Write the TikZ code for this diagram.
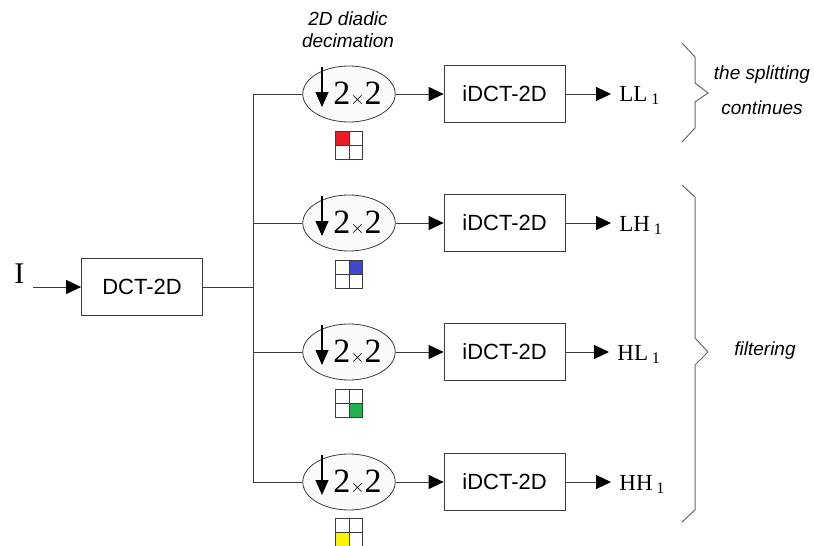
\documentclass[tikz,border=0pt]{standalone}
\usepackage{fontspec}
\setmainfont{Liberation Serif}
\setsansfont{Liberation Sans}
\usetikzlibrary{
  arrows.meta,
  positioning,
  shapes.geometric
}
\definecolor{LineGray}{RGB}{60,60,60}
\definecolor{BraceGray}{RGB}{105,105,105}
\definecolor{EllFill}{RGB}{248,250,252}
\definecolor{BandRed}{RGB}{237,28,36}
\definecolor{BandBlue}{RGB}{63,72,204}
\definecolor{BandGreen}{RGB}{34,177,76}
\definecolor{BandYellow}{RGB}{255,242,0}
\tikzset{
  blockbox/.style={draw=LineGray,fill=white,minimum width=60.5pt,minimum height=28.5pt,inner sep=0pt,font=\sffamily\fontsize{11}{13}\selectfont},
  decim/.style={ellipse,draw=LineGray,fill=EllFill,minimum width=44.5pt,minimum height=28pt,inner sep=0pt,font=\fontsize{17}{19}\selectfont},
  bandgrid/.style={minimum size=13.5pt,inner sep=0pt},
  outlabel/.style={inner xsep=4pt,inner ysep=0pt,anchor=base west,font=\fontsize{11.5}{14}\selectfont},
  inlabel/.style={inner sep=0pt,anchor=base west,font=\fontsize{15}{17}\selectfont},
  note/.style={align=center,font=\sffamily\itshape\fontsize{9.5}{11}\selectfont},
  wire/.style={draw=LineGray,line width=0.5pt},
  sigarrow/.style={wire,-{Triangle[length=7.5pt,width=7pt,color=black]}},
  downarrow/.style={draw=black,line width=0.6pt,-{Triangle[length=7.5pt,width=6.5pt]}},
  bracepath/.style={draw=BraceGray,line width=0.5pt}
}
\newcommand{\decimtext}{\hspace*{8.5pt}2{\fontsize{9}{9}\selectfont$\times$}2}
% arrow inside the decimation ellipse
\newcommand{\downmark}[1]{%
  \draw[downarrow] ([xshift=-13.5pt,yshift=13.5pt]#1.center) -- ([xshift=-13.5pt,yshift=-6.5pt]#1.center);}
% 2x2 sub-band square: node, quarter, colour
\newcommand{\bandmark}[3]{%
  \fill[#3] (#1.#2) rectangle (#1.center);
  \draw[LineGray,line width=0.5pt] (#1.south west) rectangle (#1.north east)
    (#1.north) -- (#1.south) (#1.west) -- (#1.east);}

\begin{document}
\begin{tikzpicture}[x=0.5pt,y=-0.5pt]
\useasboundingbox (0,0) rectangle (814,546);

\node[blockbox] (dct) at (142,287) {DCT-2D};
\node[inlabel] (inp) at (14,283) {I};
\coordinate (src) at (33,287);
\coordinate (split) at (253,287);
\draw[sigarrow] (src) -- (dct.west);
\draw[wire] (dct.east) -- (split);

\node[note] (decnote) at (348,30) {2D diadic\\decimation};

\node[decim] (d1) at (349,94) {\decimtext};
\node[decim] (d2) at (349,223) {\decimtext};
\node[decim] (d3) at (349,352) {\decimtext};
\node[decim] (d4) at (349,482) {\decimtext};
\downmark{d1} \downmark{d2} \downmark{d3} \downmark{d4}

\node[bandgrid, below=4.5pt of d1] (g1) {};
\node[bandgrid, below=4.5pt of d2] (g2) {};
\node[bandgrid, below=4.5pt of d3] (g3) {};
\node[bandgrid, below=4pt of d4] (g4) {};
\bandmark{g1}{north west}{BandRed}
\bandmark{g2}{north east}{BandBlue}
\bandmark{g3}{south east}{BandGreen}
\bandmark{g4}{south west}{BandYellow}

\node[blockbox, right=24pt of d1] (i1) {iDCT-2D};
\node[blockbox, right=24pt of d2] (i2) {iDCT-2D};
\node[blockbox, right=24pt of d3] (i3) {iDCT-2D};
\node[blockbox, right=24pt of d4] (i4) {iDCT-2D};

\node[outlabel] (o1) at (611,101) {LL\,\textsubscript{1}};
\node[outlabel] (o2) at (611,231) {LH\,\textsubscript{1}};
\node[outlabel] (o3) at (609,360) {HL\,\textsubscript{1}};
\node[outlabel] (o4) at (611,490) {HH\,\textsubscript{1}};

\draw[wire] (split) |- (d1.west);
\draw[wire] (split) |- (d2.west);
\draw[wire] (split) |- (d3.west);
\draw[wire] (split) |- (d4.west);

\draw[sigarrow] (d1) -- (i1);
\draw[sigarrow] (d2) -- (i2);
\draw[sigarrow] (d3) -- (i3);
\draw[sigarrow] (d4) -- (i4);

\draw[sigarrow] (i1.east) -- (i1.east -| o1.west);
\draw[sigarrow] (i2.east) -- (i2.east -| o2.west);
\draw[sigarrow] (i3.east) -- (i3.east -| o3.west);
\draw[sigarrow] (i4.east) -- (i4.east -| o4.west);

% braces
\draw[bracepath] (682,43) -- (695,57) -- (695,83) -- (708,93) -- (695,102) -- (695,128) -- (682,142);
\draw[bracepath] (682,185) -- (695,197) -- (695,338) -- (708,352) -- (695,365) -- (695,510) -- (682,522);

\node[note,font=\sffamily\itshape\fontsize{9.5}{17.5}\selectfont] (splitnote) at (762,90) {the splitting\\continues};
\node[note] (filtnote) at (765,351) {filtering};
\end{tikzpicture}
\end{document}
